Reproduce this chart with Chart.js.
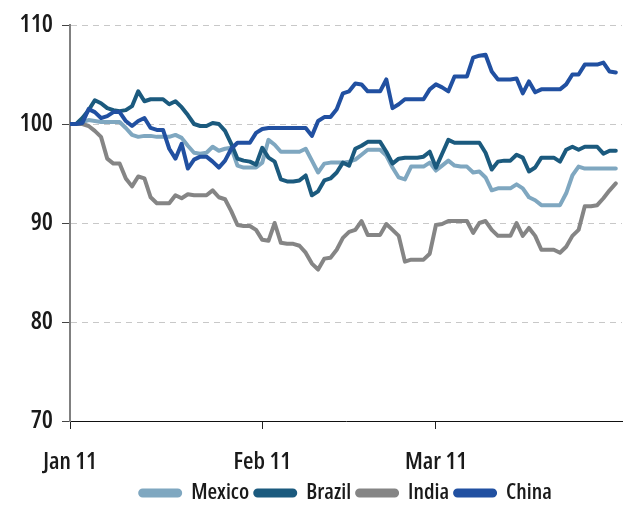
<!DOCTYPE html>
<html>
<head>
<meta charset="utf-8">
<script src="https://cdn.jsdelivr.net/npm/chart.js@4/dist/chart.umd.min.js"></script>
<style>
  html, body { margin: 0; padding: 0; background: #fff; }
  #wrap { width: 639px; height: 506px; }
</style>
</head>
<body>
<div id="wrap"><canvas id="idxChart"></canvas></div>
<script>
// daily index values, Jan 11 = 100 (day 0) .. day 88
const mexico = [100, 100, 100.2, 100.4, 100.3, 100.2, 100.2, 100.2, 100.2, 99.6,
  98.9, 98.7, 98.8, 98.8, 98.7, 98.7, 98.7, 98.9, 98.6, 97.8,
  97.1, 97.0, 97.1, 97.7, 97.3, 97.5, 97.6, 95.8, 95.6, 95.6,
  95.6, 96.1, 98.4, 97.9, 97.2, 97.2, 97.2, 97.2, 97.5, 96.3,
  95.1, 96.0, 96.1, 96.1, 96.1, 96.2, 96.4, 96.9, 97.4, 97.4,
  97.4, 96.8, 95.6, 94.6, 94.4, 95.7, 95.7, 95.7, 96.1, 95.3,
  95.8, 96.3, 95.8, 95.7, 95.7, 95.1, 95.2, 94.6, 93.3, 93.5,
  93.5, 93.5, 93.9, 93.5, 92.6, 92.3, 91.8, 91.8, 91.8, 91.8,
  93.0, 94.8, 95.7, 95.5, 95.5, 95.5, 95.5, 95.5, 95.5];

const brazil = [100, 100, 100.6, 101.4, 102.4, 102.1, 101.6, 101.4, 101.3, 101.4,
  101.8, 103.3, 102.3, 102.5, 102.5, 102.5, 102.0, 102.3, 101.7, 100.9,
  100.0, 99.8, 99.8, 100.1, 100.0, 99.3, 98.0, 96.5, 96.3, 96.2,
  95.9, 97.6, 96.6, 96.2, 94.4, 94.2, 94.2, 94.3, 94.8, 92.8,
  93.2, 94.3, 94.5, 95.1, 96.1, 95.8, 97.5, 97.8, 98.2, 98.2,
  98.2, 97.2, 96.0, 96.5, 96.6, 96.6, 96.6, 96.7, 97.2, 95.6,
  97.0, 98.4, 98.1, 98.1, 98.1, 98.1, 98.1, 97.1, 95.4, 96.2,
  96.3, 96.3, 96.9, 96.6, 95.2, 95.6, 96.6, 96.6, 96.6, 96.2,
  97.4, 97.7, 97.4, 97.7, 97.7, 97.7, 97.0, 97.3, 97.3];

const india = [100, 100, 100, 99.8, 99.3, 98.7, 96.5, 96.0, 96.0, 94.5,
  93.7, 94.7, 94.5, 92.6, 92.0, 92.0, 92.0, 92.8, 92.5, 92.9,
  92.8, 92.8, 92.8, 93.3, 92.6, 92.4, 91.2, 89.8, 89.7, 89.7,
  89.3, 88.3, 88.2, 90.0, 88.0, 87.9, 87.9, 87.7, 87.0, 85.9,
  85.3, 86.4, 86.5, 87.3, 88.5, 89.1, 89.3, 90.2, 88.8, 88.8,
  88.8, 89.9, 89.3, 88.7, 86.1, 86.3, 86.3, 86.3, 86.9, 89.8,
  89.9, 90.2, 90.2, 90.2, 90.2, 89.0, 90.0, 90.2, 89.3, 88.7,
  88.7, 88.7, 90.0, 88.7, 89.5, 88.7, 87.3, 87.3, 87.3, 87.0,
  87.6, 88.7, 89.3, 91.7, 91.7, 91.8, 92.5, 93.3, 94.0];

const china = [100, 100, 100.1, 101.5, 101.2, 100.6, 100.8, 101.2, 101.2, 100.3,
  99.8, 100.3, 100.6, 99.6, 99.4, 99.4, 97.5, 96.5, 98.0, 95.5,
  96.4, 96.7, 96.7, 96.2, 95.6, 96.3, 97.5, 98.1, 98.1, 98.1,
  99.1, 99.5, 99.6, 99.6, 99.6, 99.6, 99.6, 99.6, 99.6, 98.8,
  100.3, 100.7, 100.7, 101.5, 103.1, 103.3, 104.1, 104.0, 103.3, 103.3,
  103.3, 104.5, 101.6, 102.0, 102.5, 102.5, 102.5, 102.5, 103.5, 104.0,
  103.7, 103.3, 104.8, 104.8, 104.8, 106.7, 106.9, 107.0, 105.3, 104.5,
  104.5, 104.5, 104.6, 103.1, 104.3, 103.2, 103.5, 103.5, 103.5, 103.5,
  104.0, 105.0, 105.0, 106.0, 106.0, 106.0, 106.2, 105.3, 105.2];

const tickDays = [0, 31, 59];
const tickLabels = ["Jan 11", "Feb 11", "Mar 11"];
const yTicks = [70, 80, 90, 100, 110];

// condensed face; weight slot carries the stretch keyword into the canvas font string
const FONT = "'Open Sans', Roboto, 'DejaVu Sans', sans-serif";
const STRETCH = "600 extra-condensed";

function series(label, values, color, order) {
  return {
    label,
    data: values.map((v, i) => ({ x: i, y: v })),
    borderColor: color,
    backgroundColor: color,
    borderWidth: 4,
    pointRadius: 0,
    tension: 0,
    borderJoinStyle: "round",
    borderCapStyle: "round",
    order
  };
}

// make the legend box shorter than padding * 3 + font so it sits lower
const legendHeight = {
  id: "legendHeight",
  afterInit(chart) {
    const lg = chart.legend;
    if (!lg) return;
    const fit = lg.fit.bind(lg);
    lg.fit = function () { fit(); this.height = 30; };
  }
};

const ctx = document.getElementById("idxChart");

new Chart(ctx, {
  type: "line",
  data: {
    datasets: [
      series("Mexico", mexico, "#7fa7c0", 4),
      series("Brazil", brazil, "#1b5a7e", 3),
      series("India", india, "#858585", 2),
      series("China", china, "#2150a1", 1)
    ]
  },
  plugins: [legendHeight],
  options: {
    responsive: true,
    maintainAspectRatio: false,
    animation: false,
    layout: { padding: { top: 25, right: 17, bottom: 0, left: 0 } },
    plugins: {
      tooltip: { enabled: false },
      legend: {
        position: "bottom",
        fullSize: false,
        labels: {
          sort: (a, b) => a.datasetIndex - b.datasetIndex,
          boxWidth: 40,
          boxHeight: 5,
          useBorderRadius: true,
          borderRadius: 2.5,
          padding: 6,
          color: "#1a1a1a",
          font: { family: FONT, size: 22, weight: STRETCH, lineHeight: 1 }
        }
      }
    },
    scales: {
      x: {
        type: "linear",
        min: 0,
        max: 89,
        afterBuildTicks: (scale) => {
          scale.ticks = tickDays.map(v => ({ value: v }));
        },
        afterFit: (scale) => { scale.height = 55; },
        ticks: {
          autoSkip: false,
          maxRotation: 0,
          padding: 19,
          color: "#1a1a1a",
          font: { family: FONT, size: 24, weight: STRETCH },
          callback: (v) => tickLabels[tickDays.indexOf(v)]
        },
        grid: {
          drawOnChartArea: false,
          tickLength: 8,
          tickColor: "#222"
        },
        border: { color: "#111", width: 1 }
      },
      y: {
        min: 70,
        max: 110,
        afterBuildTicks: (scale) => {
          scale.ticks = yTicks.map(v => ({ value: v }));
        },
        afterFit: (scale) => { scale.width = 70; },
        ticks: {
          padding: 9,
          color: "#1a1a1a",
          font: { family: FONT, size: 25, weight: STRETCH }
        },
        grid: {
          color: (c) => (c.tick && c.tick.value === 70 ? "rgba(0,0,0,0)" : "#c8c8c8"),
          lineWidth: 1,
          tickLength: 8,
          tickColor: "#444"
        },
        border: { color: "#808080", width: 2, dash: [6, 5] }
      }
    }
  }
});
</script>
</body>
</html>
